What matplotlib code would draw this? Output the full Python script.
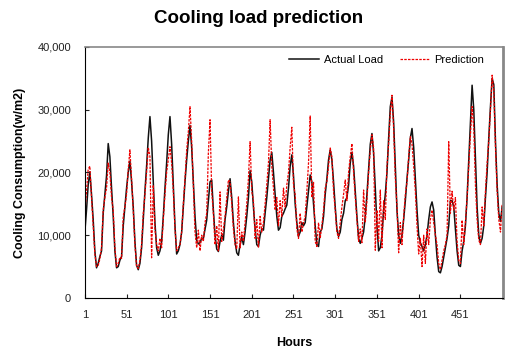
import matplotlib
matplotlib.use('Agg')
import matplotlib.pyplot as plt
from matplotlib.ticker import FuncFormatter

plt.rcParams['font.family'] = ['Liberation Sans', 'DejaVu Sans']

# values, thousands of w/m2, every 2nd hour starting at hour 1
actual_k = [
    10.5, 14, 18, 20.1, 16.5, 12.5, 7.5, 4.8, 5.5, 6.6, 7.5, 13.5,
    16.5, 19.5, 24.6, 22.5, 17.5, 13, 7.5, 4.8, 5, 6, 6.6, 11.5,
    14.5, 17.5, 20, 21.8, 18.5, 14.5, 9, 5.2, 4.5, 5.5, 8, 12.5,
    17, 21, 25.5, 28.9, 25, 18.5, 12, 8, 6.8, 7.5, 9, 13,
    17.5, 21.5, 26, 28.9, 24.5, 18, 11.5, 7, 7.5, 8.5, 10.5, 14.5,
    18.5, 22, 25, 27.5, 24, 18.5, 13, 9.2, 8.6, 8.8, 9.5, 9.5,
    11, 12.4, 15.5, 18.5, 18.8, 14, 10, 7.8, 7.4, 9, 10, 9.2,
    12.5, 14.5, 17, 19, 16, 12, 9, 7.2, 6.8, 8.5, 9.7, 8.5,
    10.5, 13, 16, 20.3, 18.5, 14.5, 11, 8.5, 8.2, 10, 11, 10.8,
    13.5, 16, 19, 22, 23.2, 20, 16.5, 13, 10.8, 11.2, 13, 13.5,
    14.2, 14.8, 17.5, 21, 22.8, 19.5, 15, 12, 9.8, 10.5, 12, 11.5,
    12, 14.5, 17, 19.6, 18.5, 15, 11.5, 8.5, 8.2, 10.5, 11, 13,
    16.5, 19, 22, 23.6, 22, 18.5, 14.5, 11, 9.8, 10.5, 12.5, 13.5,
    15.5, 16, 18, 21.5, 23.2, 21, 17, 13, 9.5, 8.7, 9.5, 10.5,
    13, 16.5, 20.5, 24.5, 26.2, 23, 17.5, 11.5, 7.5, 8, 10, 14,
    16.5, 20, 25.5, 30.5, 32, 28, 21, 14, 10, 8.7, 10, 12.5,
    15.5, 19, 22, 25.5, 27, 24, 19, 14, 10, 8.8, 8.2, 7.5,
    8.5, 10, 12.5, 14.5, 15.3, 14, 10, 6.5, 4.2, 4, 5, 6.5,
    8, 9.5, 11.5, 15.5, 15.5, 14.5, 11, 7.5, 5.2, 5, 7.5, 9,
    11.5, 16, 22, 28, 33.9, 30, 22, 14.5, 10, 8.7, 9.5, 11.5,
    16, 20, 25.5, 30.5, 35, 34, 25, 18, 13.5, 12.2, 14.5,
]

predicted_k = [
    13.5, 17, 20.5, 21, 16, 11.5, 7, 5, 5.2, 6.2, 8, 14,
    16, 17.5, 21.5, 20, 16, 14, 8, 5, 5.5, 6.5, 6.3, 13,
    14.5, 16.5, 20.5, 23.6, 19, 14, 8.5, 5, 4.7, 6, 8.5, 13.5,
    16.5, 20, 24, 22.5, 6.4, 18, 11, 8.5, 7.5, 9.5, 8, 12.5,
    16.5, 20, 22, 24.1, 21.5, 17, 11, 7.5, 8, 8.5, 10.5, 15,
    19, 23.5, 26.5, 30.5, 25, 18, 10.5, 8, 10.8, 7.5, 10, 9,
    12, 13.5, 23.1, 28.4, 17, 13.5, 8.5, 11.5, 7.5, 16.9, 9, 11,
    13, 16, 18.8, 18.5, 15, 11, 8.5, 7.8, 16.1, 8, 10.5, 9,
    12, 15, 19, 24.9, 17, 15.5, 9.5, 12.5, 8, 13, 10.5, 12,
    15, 18, 21.5, 28.4, 21, 17.5, 14, 16, 11.5, 15.5, 13, 17.5,
    14.5, 18, 20, 24, 27.2, 18, 16.5, 11, 9.5, 13.5, 10.5, 12,
    13, 17, 21.5, 29, 16, 18.5, 9, 8.2, 12, 9.5, 11.5, 14,
    17.5, 18.5, 21, 23.9, 22.5, 17, 14, 10.5, 9.5, 12, 14.5, 16.5,
    18.8, 15.5, 20, 22.5, 24.6, 20, 16, 12.5, 9, 11, 8.8, 17.2,
    12, 15.5, 20, 23.5, 26, 24, 7.6, 14, 9, 17.2, 8, 15.5,
    12.5, 21, 24.5, 29.5, 32.3, 27, 19, 14.5, 7.2, 12, 8.5, 13,
    16.5, 18.5, 22.5, 25.7, 24.5, 21, 17, 11.5, 7, 9.5, 5, 10,
    5.5, 11, 8.5, 12.5, 14, 12, 10, 8.5, 5.5, 4.5, 6, 7.5,
    8.5, 10, 24.9, 13.5, 17, 14, 16, 9, 6, 5.5, 12.4, 8.5,
    12, 16, 21, 26, 30.5, 27, 18, 12.5, 9.2, 8.5, 14.5, 11.5,
    17, 21.5, 25, 30, 35.5, 33, 24, 17, 12.5, 10.5, 15,
]

hours = list(range(1, 2 * len(actual_k), 2))
actual = [v * 1000 for v in actual_k]
predicted = [v * 1000 for v in predicted_k]
xticks = list(range(1, 452, 50))

fig = plt.figure(figsize=(5.05, 3.53), dpi=100)
ax = fig.add_axes([0.168, 0.156, 0.828, 0.711])

ax.plot(hours, actual, color='#111111', lw=1.1, label='Actual Load')
ax.plot(hours, predicted, color='#ee0000', lw=0.9, ls=(0, (2, 1)), label='Prediction')

ax.set_xlim(1, 502)
ax.set_ylim(0, 40000)
ax.set_xticks(xticks)
ax.set_yticks(range(0, 40001, 10000))
ax.yaxis.set_major_formatter(FuncFormatter(lambda v, p: f'{v:,.0f}'))
ax.tick_params(direction='in', length=3, labelsize=8, colors='#222222')
ax.tick_params(axis='x', pad=9)
ax.tick_params(axis='y', pad=10)

for side in ['top', 'right']:
    ax.spines[side].set_color('#888888')
ax.spines['right'].set_linewidth(2)
ax.spines['top'].set_linewidth(1.2)

ax.set_xlabel('Hours', fontsize=9, fontweight='bold', labelpad=12)
ax.set_ylabel('Cooling Consumption(w/m2)', fontsize=9, fontweight='bold', labelpad=8)
fig.text(0.512, 0.948, 'Cooling load prediction', ha='center', va='center',
         fontsize=13.5, fontweight='bold')

ax.legend(loc='upper right', bbox_to_anchor=(0.965, 0.985), ncol=2, frameon=False,
          fontsize=8, handlelength=2.7, handletextpad=0.4, columnspacing=1.5,
          borderaxespad=0)

fig.savefig('out.png', dpi=100)
